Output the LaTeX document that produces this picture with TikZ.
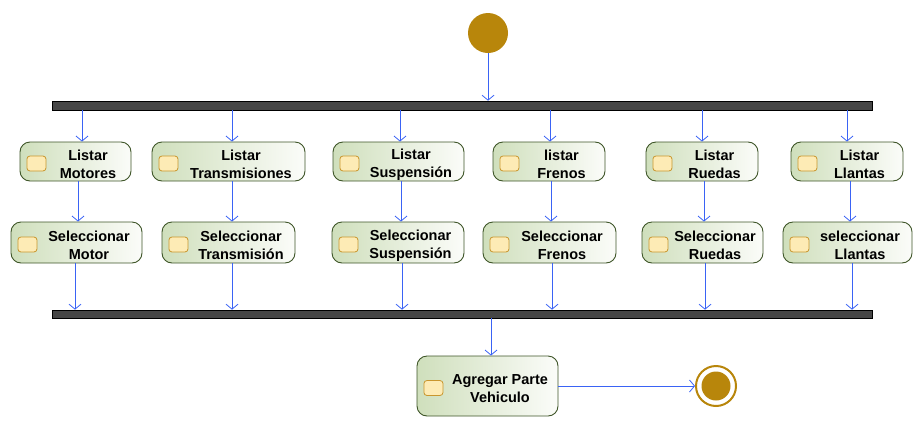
\documentclass[tikz,border=0pt]{standalone}
\usepackage{fontspec}
\setmainfont{Liberation Sans}
\usetikzlibrary{arrows.meta,fit,calc}
\definecolor{flowc}{HTML}{3A63F5}
\definecolor{gold}{HTML}{B8860B}
\definecolor{barc}{HTML}{464646}
\definecolor{actborder}{HTML}{3E5528}
\definecolor{actleft}{HTML}{CFDFBC}
\definecolor{actright}{HTML}{FBFCF9}
\definecolor{iconfill}{HTML}{FDEBB5}
\definecolor{iconborder}{HTML}{C9962E}
\tikzset{
  act/.style={draw=actborder, line width=0.9pt, rounded corners=10pt, left color=actleft, right color=actright, shading angle=90, inner sep=0pt},
  icon/.style={draw=iconborder, fill=iconfill, line width=0.8pt, rounded corners=3pt, minimum width=19pt, minimum height=15pt, inner sep=0pt},
  txt/.style={font=\bfseries\fontsize{14.5}{18}\selectfont, align=center, inner sep=0pt},
  bar/.style={draw=black, fill=barc, line width=0.6pt, inner sep=0pt},
  flow/.style={draw=flowc, line width=0.8pt, -{Straight Barb[length=5pt,width=12pt,line width=0.8pt]}},
}
\newcommand\actbox[6]{%
  \node[act, fit={(#2,#3)(#4,#5)}] (#1) {};
  \node[icon, anchor=west] (#1i) at ([xshift=7pt,yshift=-2pt]#1.west) {};
  \node[txt] (#1t) at ([xshift=12.5pt,yshift=-3pt]#1.center) {#6};
}
\begin{document}
\begin{tikzpicture}[x=1pt,y=-1pt]
\useasboundingbox (0,0) rectangle (923,426);
% start
\node[circle, fill=gold, minimum size=40pt, inner sep=0pt] (start) at (488,33) {};
% bars
\node[bar, fit={(52,101)(872,110)}] (fork) {};
\node[bar, fit={(52,310)(872,318)}] (join) {};
% top row
\actbox{la}{20}{142}{131}{181}{Listar\\Motores}
\actbox{lb}{152}{142}{305}{181}{Listar\\Transmisiones}
\actbox{lc}{333}{142}{464}{181}{Listar\\Suspensión}
\actbox{ld}{493}{142}{605}{181}{listar\\Frenos}
\actbox{le}{646}{142}{758}{181}{Listar\\Ruedas}
\actbox{lf}{791}{142}{903}{181}{Listar\\Llantas}
% second row
\actbox{sa}{11}{222}{142}{263}{Seleccionar\\Motor}
\actbox{sb}{162}{222}{295}{263}{Seleccionar\\Transmisión}
\actbox{sc}{332}{222}{464}{263}{Seleccionar\\Suspensión}
\actbox{sd}{483}{222}{616}{263}{Seleccionar\\Frenos}
\actbox{se}{642}{222}{763}{263}{Seleccionar\\Ruedas}
\actbox{sf}{783}{222}{912}{263}{seleccionar\\Llantas}
% final action
\actbox{ap}{417}{356}{558}{416}{Agregar Parte\\Vehiculo}
% end
\node[circle, draw=gold, line width=2pt, fill=white, minimum size=40pt, inner sep=0pt] (end) at (716,386) {};
\node[circle, fill=gold, minimum size=29pt, inner sep=0pt] (endin) at (716,386) {};
% x positions
\coordinate (xs) at (488,0);
\coordinate (x1) at (82,0);
\coordinate (x2) at (232,0);
\coordinate (x3) at (400,0);
\coordinate (x4) at (550,0);
\coordinate (x5) at (702,0);
\coordinate (x6) at (847,0);
\coordinate (y1) at (78,0);
\coordinate (y2) at (232,0);
\coordinate (y3) at (401,0);
\coordinate (y4) at (551,0);
\coordinate (y5) at (704,0);
\coordinate (y6) at (850,0);
\coordinate (z1) at (75,0);
\coordinate (z2) at (232,0);
\coordinate (z3) at (402,0);
\coordinate (z4) at (552,0);
\coordinate (z5) at (705,0);
\coordinate (z6) at (852,0);
\coordinate (xj) at (491,0);
% connectors
\draw[flow] (start.south) -- (xs |- fork.north);
\foreach \n/\x in {a/1,b/2,c/3,d/4,e/5,f/6}{
  \draw[flow] (fork.south -| x\x) -- (x\x |- l\n.north);
  \draw[flow] (y\x |- l\n.south) -- (y\x |- s\n.north);
  \draw[flow] (z\x |- s\n.south) -- (z\x |- join.north);
}
\draw[flow] (join.south -| xj) -- (xj |- ap.north);
\draw[flow] (ap.east) -- (end.west);
\end{tikzpicture}
\end{document}
